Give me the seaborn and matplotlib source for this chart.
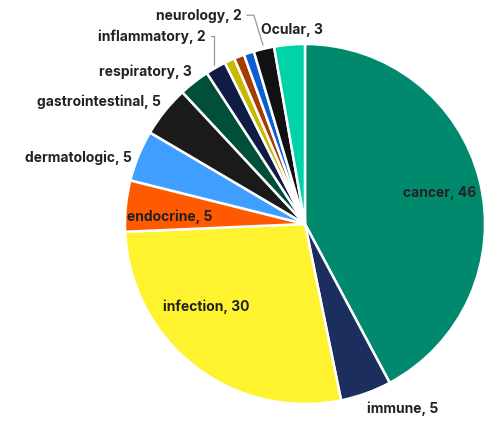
import numpy as np
import matplotlib
matplotlib.use("Agg")
import matplotlib.pyplot as plt
import seaborn as sns

# slices, clockwise from 12 o'clock
categories = ["cancer", "immune", "infection", "endocrine", "dermatologic",
              "gastrointestinal", "respiratory", "inflammatory",
              "other a", "other b", "other c", "neurology", "Ocular"]
values = [46, 5, 30, 5, 5, 5, 3, 2, 1, 1, 1, 2, 3]
show_label = [True, True, True, True, True, True, True, True,
              False, False, False, True, True]

colors = ["#00896D", "#1B2E5E", "#FFF22E", "#FF5A00", "#3F9EFF",
          "#1A1A1A", "#004F3B", "#111C45", "#C8B800", "#A63C00",
          "#0A60D2", "#111111", "#00D3A7"]

# label placement in pie units (center 0,0 radius 1)
label_pos = {
    "cancer": (0.75, 0.18),
    "immune": (0.54, -1.02),
    "infection": (-0.55, -0.455),
    "endocrine": (-0.75, 0.045),
    "dermatologic": (-1.26, 0.372),
    "gastrointestinal": (-1.147, 0.683),
    "respiratory": (-0.886, 0.85),
    "inflammatory": (-0.853, 1.044),
    "neurology": (-0.59, 1.16),
    "Ocular": (-0.07, 1.083),
}
leader = {"inflammatory", "neurology"}

sns.set_theme(style="white")
plt.rcParams['font.family'] = ['Inter', 'DejaVu Sans']

fig = plt.figure(figsize=(5.02, 4.27), dpi=100)
ax = fig.add_axes([0, 0, 1, 1])

wedges, _ = ax.pie(values, colors=colors, startangle=90, counterclock=False,
                   radius=1.0,
                   wedgeprops=dict(edgecolor="white", linewidth=1.8))

total = float(sum(values))
cum = np.cumsum([0] + values)
for i, name in enumerate(categories):
    if not show_label[i]:
        continue
    tx, ty = label_pos[name]
    txt = ax.text(tx, ty, f"{name}, {values[i]}", ha="center", va="center",
                  fontsize=10, fontweight="bold", color="#222222")
    if name in leader:
        mid = (cum[i] + cum[i + 1]) / 2 / total * 360
        theta = np.deg2rad(90 - mid)
        wx, wy = 1.02 * np.cos(theta), 1.02 * np.sin(theta)
        fig.canvas.draw()
        bb = txt.get_window_extent().transformed(ax.transData.inverted())
        x0 = bb.x1 + 0.015
        if name == "inflammatory":
            ax.plot([x0, wx, wx], [ty, ty, wy], color="#999999", lw=0.9)
        else:
            ax.plot([x0, x0 + 0.04, wx], [ty, ty, wy], color="#999999", lw=0.9)

ax.set_xlim(-305 / 180, (502 - 305) / 180)
ax.set_ylim((225 - 427) / 180, 225 / 180)
ax.set_aspect("auto")
ax.axis("off")

fig.savefig("out.png", dpi=100, facecolor="white")
